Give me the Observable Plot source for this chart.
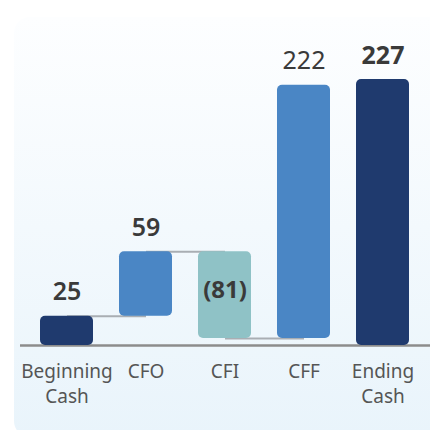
<!DOCTYPE html>
<html><head><meta charset="utf-8">
<script src="https://cdn.jsdelivr.net/npm/d3@7"></script>
<script src="https://cdn.jsdelivr.net/npm/@observablehq/plot@0.6"></script>
<style>
html,body{margin:0;padding:0;background:#fff;width:430px;height:430px;overflow:hidden;}
#bg{position:absolute;left:14px;top:17px;width:440px;height:420px;border-radius:16px;background:linear-gradient(#fdfeff,#e9f4fb);}
#chart{position:absolute;left:0;top:0;}
</style></head><body>
<div id="bg"></div>
<div id="chart"></div>
<script>
const categories = ["Beginning\nCash", "CFO", "CFI", "CFF", "Ending\nCash"];
const labels = ["25", "59", "(81)", "222", "227"];
const barLow = [0, 25, 6, 6, 0];
const barHigh = [25, 80, 80, 222, 227];
const colors = ["#1f3a6e", "#4a86c5", "#8fc2c6", "#4a86c5", "#1f3a6e"];
const labelWeight = [600, 600, 600, 400, 700];
const labelInside = [false, false, true, false, false];

const data = categories.map((c, i) => ({
  cat: c, lo: barLow[i], hi: barHigh[i], label: labels[i], color: colors[i],
  weight: labelWeight[i], inside: labelInside[i]
}));
const links = [
  {a: categories[0], b: categories[1], y: barHigh[0]},
  {a: categories[1], b: categories[2], y: barHigh[1]},
  {a: categories[2], b: categories[3], y: barLow[2]}
];

const font = "'Noto Sans', 'Open Sans', sans-serif";
const chart = Plot.plot({
  width: 430, height: 430,
  marginLeft: 27, marginRight: 8, marginTop: 79, marginBottom: 85,
  style: {background: "transparent", fontFamily: font},
  x: {domain: categories, paddingInner: 0.33, paddingOuter: 0.165, label: null},
  y: {domain: [0, 227], axis: null},
  color: {type: "identity"},
  marks: [
    Plot.ruleY([0], {stroke: "#8c8c8c", strokeWidth: 2.5, insetLeft: -7, insetRight: -8}),
    Plot.link(links, {x1: "a", x2: "b", y1: "y", y2: "y", stroke: "#a9aeb3", strokeWidth: 2}),
    Plot.barY(data, {x: "cat", y1: "lo", y2: "hi", fill: "color", rx: 5}),
    ...[400, 600, 700].map(w => Plot.text(data.filter(d => d.weight === w && !d.inside), {
      x: "cat", y: "hi", text: "label", dy: -24, fontSize: 25, fontWeight: w, fill: "#3a3a3a"
    })),
    Plot.text(data.filter(d => d.inside), {
      x: "cat", y: "hi", text: "label", dy: 39, fontSize: 24, fontWeight: 700, fill: "#3a3a3a"
    }),
    Plot.axisX({tickSize: 0, tickPadding: 15, fontSize: 19, lineHeight: 1.3, fill: "#555", label: null})
  ]
});
document.getElementById("chart").append(chart);
</script>
</body></html>
